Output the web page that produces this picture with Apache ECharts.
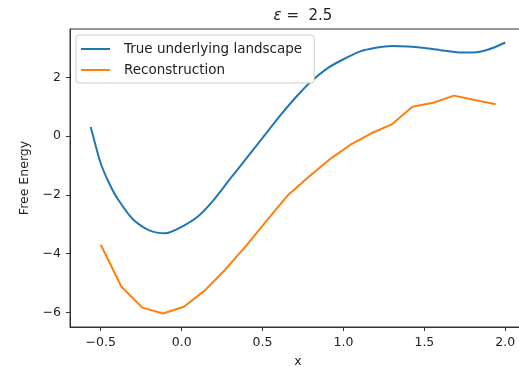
<!DOCTYPE html>
<html>
<head>
<meta charset="utf-8">
<script src="https://cdn.jsdelivr.net/npm/echarts@6/dist/echarts.min.js"></script>
<style>
  html, body { margin: 0; padding: 0; background: #fff; }
  #chart { width: 519px; height: 367px; }
</style>
</head>
<body>
<div id="chart"></div>
<script>
// true landscape, sampled off the smooth curve
const trueX = [-0.562, -0.53, -0.5, -0.45, -0.4, -0.3, -0.2, -0.1, 0.0, 0.1, 0.2, 0.3, 0.4, 0.5, 0.6, 0.7, 0.8, 0.9, 1.0, 1.1, 1.2, 1.3, 1.4, 1.5, 1.6, 1.7, 1.8, 1.9, 2.0];
const trueY = [0.31, -0.35, -0.93, -1.58, -2.1, -2.84, -3.21, -3.31, -3.09, -2.74, -2.16, -1.45, -0.76, -0.06, 0.64, 1.29, 1.86, 2.31, 2.62, 2.88, 3.01, 3.07, 3.05, 3.0, 2.93, 2.86, 2.85, 2.96, 3.19];

// reconstruction, one point per bin
const recX = [-0.5, -0.372, -0.243, -0.115, 0.014, 0.142, 0.27, 0.399, 0.527, 0.655, 0.784, 0.912, 1.041, 1.169, 1.298, 1.426, 1.554, 1.683, 1.811, 1.94];
const recY = [-3.7, -5.13, -5.84, -6.04, -5.81, -5.26, -4.54, -3.73, -2.87, -2.02, -1.39, -0.8, -0.3, 0.09, 0.4, 1.0, 1.14, 1.38, 1.23, 1.09];

const xTicks = [-0.5, 0.0, 0.5, 1.0, 1.5, 2.0];
const yTicks = [-6, -4, -2, 0, 2];

const font = "DejaVu Sans";
const ink = "#222";
const minus = (s) => s.replace("-", "\u2212");

const chart = echarts.init(document.getElementById("chart"));

chart.setOption({
  animation: false,
  textStyle: { fontFamily: font },
  title: {
    text: "{e|\u03b5} =  2.5",
    left: 298,
    top: 4,
    textAlign: "center",
    textStyle: {
      fontFamily: font,
      fontSize: 15,
      fontWeight: "normal",
      color: ink,
      rich: { e: { fontFamily: font, fontStyle: "italic", fontSize: 15, color: ink } },
    },
  },
  legend: {
    orient: "vertical",
    left: 76,
    top: 35,
    padding: [6, 12, 5, 5],
    itemGap: 5,
    itemWidth: 29,
    itemHeight: 2,
    icon: "rect",
    borderColor: "#ccc",
    borderWidth: 1,
    borderRadius: 3,
    backgroundColor: "#fff",
    textStyle: { fontFamily: font, fontSize: 13.5, color: ink, padding: [0, 0, 0, 9], lineHeight: 16 },
    data: ["True underlying landscape", "Reconstruction"],
  },
  grid: {
    left: 70, top: 29, width: 456, height: 298,
    outerBoundsMode: "none",
    containLabel: false,
    show: true, borderColor: "#333", borderWidth: 1,
  },
  xAxis: {
    type: "value",
    min: -0.69,
    max: 2.128,
    name: "x",
    nameLocation: "middle",
    nameGap: 28,
    nameTextStyle: { fontFamily: font, fontSize: 12.5, color: ink },
    axisLine: { show: true, onZero: false, lineStyle: { color: "#333", width: 1 } },
    axisTick: { show: true, length: 4, customValues: xTicks, lineStyle: { color: "#333" } },
    axisLabel: {
      margin: 9,
      fontSize: 12.5,
      color: ink,
      customValues: xTicks,
      formatter: (v) => minus(v.toFixed(1)),
    },
    splitLine: { show: false },
  },
  yAxis: {
    type: "value",
    min: -6.5,
    max: 3.65,
    name: "Free Energy",
    nameLocation: "middle",
    nameGap: 38,
    nameTextStyle: { fontFamily: font, fontSize: 12.5, color: ink },
    axisLine: { show: true, onZero: false, lineStyle: { color: "#333", width: 1 } },
    axisTick: { show: true, length: 4, customValues: yTicks, lineStyle: { color: "#333" } },
    axisLabel: {
      margin: 9,
      fontSize: 12.5,
      color: ink,
      customValues: yTicks,
      formatter: (v) => minus(String(v)),
    },
    splitLine: { show: false },
  },
  series: [
    {
      name: "True underlying landscape",
      type: "line",
      smooth: 0.25,
      symbol: "none",
      color: "#1f77b4",
      lineStyle: { width: 2, color: "#1f77b4" },
      data: trueX.map((x, i) => [x, trueY[i]]),
    },
    {
      name: "Reconstruction",
      type: "line",
      symbol: "none",
      color: "#ff7f0e",
      lineStyle: { width: 2, color: "#ff7f0e" },
      data: recX.map((x, i) => [x, recY[i]]),
    },
  ],
});
</script>
</body>
</html>
